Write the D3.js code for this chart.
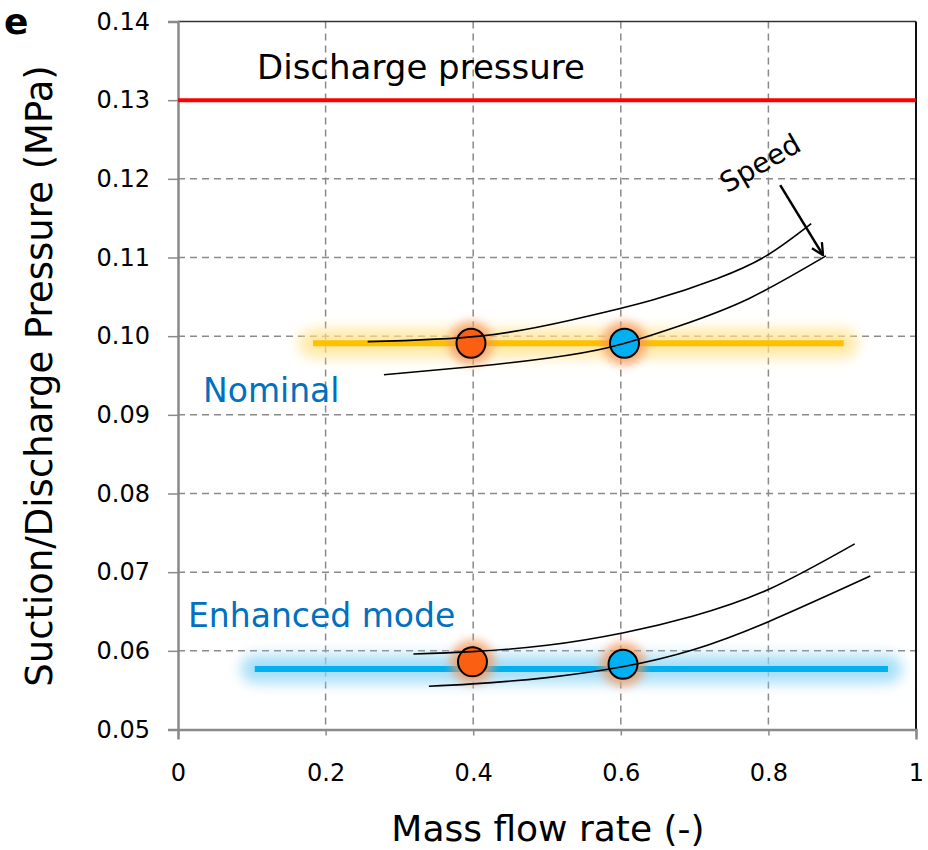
<!DOCTYPE html>
<html>
<head>
<meta charset="utf-8">
<script src="https://cdn.jsdelivr.net/npm/d3@7"></script>
<style>
  html, body { margin: 0; padding: 0; background: #fff; }
  svg text { font-family: "DejaVu Sans", sans-serif; }
</style>
</head>
<body>
<svg id="chart" width="928" height="850"></svg>
<script>
// Axis ticks
const xTicks = [0, 0.2, 0.4, 0.6, 0.8, 1];
const yTicks = [0.05, 0.06, 0.07, 0.08, 0.09, 0.10, 0.11, 0.12, 0.13, 0.14];

// Discharge pressure level (MPa)
const dischargePressure = 0.13;

// Operating bands: [x start, x end, suction pressure]
const nominalBand = [0.183, 0.902, 0.0991];
const enhancedBand = [0.104, 0.962, 0.0577];

// Operating points [mass flow, pressure, colour]
const nominalPoints = [[0.397, 0.0991, "orange"], [0.605, 0.0991, "blue"]];
const enhancedPoints = [[0.399, 0.0586, "orange"], [0.603, 0.0583, "blue"]];

// Compressor speed lines [mass flow, pressure]
const nominalUpper = [[0.257, 0.0993], [0.409, 0.1000], [0.530, 0.1020], [0.643, 0.1046], [0.730, 0.1073], [0.797, 0.1102], [0.858, 0.1143]];
const nominalLower = [[0.279, 0.0951], [0.409, 0.0962], [0.500, 0.0972], [0.585, 0.0986], [0.679, 0.1013], [0.774, 0.1048], [0.878, 0.1102]];
const enhancedUpper = [[0.319, 0.0596], [0.399, 0.0599], [0.500, 0.0607], [0.604, 0.0623], [0.697, 0.0644], [0.800, 0.0678], [0.917, 0.0736]];
const enhancedLower = [[0.340, 0.0555], [0.399, 0.0558], [0.500, 0.0566], [0.604, 0.0580], [0.697, 0.0601], [0.800, 0.0637], [0.938, 0.0695]];

// Speed arrow [from, to]
const speedArrow = [[0.816, 0.1192], [0.874, 0.1103]];

const svg = d3.select("#chart");
const L = 178, R = 916, T = 21.5, B = 729.5;

const x = d3.scaleLinear().domain([0, 1]).range([L, R]);
const y = d3.scaleLinear().domain([0.05, 0.14]).range([B, T]);

const defs = svg.append("defs");
function blurFilter(id, sd) {
  const f = defs.append("filter").attr("id", id)
    .attr("filterUnits", "userSpaceOnUse")
    .attr("x", 0).attr("y", 0).attr("width", 928).attr("height", 850);
  f.append("feGaussianBlur").attr("stdDeviation", sd);
}
blurFilter("glowBand", 7);
blurFilter("glowDot", 5);

defs.append("marker").attr("id", "arrowHead")
  .attr("viewBox", "0 0 12 12").attr("refX", 11).attr("refY", 6)
  .attr("markerWidth", 14).attr("markerHeight", 14).attr("markerUnits", "userSpaceOnUse")
  .attr("orient", "auto")
  .append("path").attr("d", "M1,1 L11,6 L1,11")
  .attr("fill", "none").attr("stroke", "#000").attr("stroke-width", 2);

// Gridlines
const grid = svg.append("g");
grid.selectAll("line.gx").data(xTicks.filter(d => d > 0 && d < 1)).join("line")
  .attr("x1", d => x(d)).attr("x2", d => x(d)).attr("y1", T).attr("y2", B)
  .attr("stroke", "#8a8a8a").attr("stroke-width", 1.5).attr("stroke-dasharray", "7,5");
grid.selectAll("line.gy").data(yTicks.filter(d => d > 0.05 && d < 0.14)).join("line")
  .attr("x1", L).attr("x2", R).attr("y1", d => y(d)).attr("y2", d => y(d))
  .attr("stroke", "#8a8a8a").attr("stroke-width", 1.5).attr("stroke-dasharray", "7,5");

// Frame: top and right
svg.append("line").attr("x1", L).attr("x2", R).attr("y1", T).attr("y2", T)
  .attr("stroke", "#333").attr("stroke-width", 1.5);
svg.append("line").attr("x1", R).attr("x2", R).attr("y1", T).attr("y2", B)
  .attr("stroke", "#111").attr("stroke-width", 2);

// Axes
const yAxis = svg.append("g").attr("transform", `translate(${L},0)`)
  .call(d3.axisLeft(y).tickValues(yTicks).tickFormat(d3.format(".2f")).tickSize(10).tickPadding(18));
const xAxis = svg.append("g").attr("transform", `translate(0,${B})`)
  .call(d3.axisBottom(x).tickValues(xTicks)
    .tickFormat(d => d === 0 || d === 1 ? d3.format("d")(d) : d3.format(".1f")(d))
    .tickSize(10).tickPadding(24));
[yAxis, xAxis].forEach(a => {
  a.attr("font-size", null).attr("font-family", null);
  a.select(".domain").attr("stroke", "#8a8a8a").attr("stroke-width", 2.5);
  a.selectAll(".tick line").attr("stroke", "#8a8a8a").attr("stroke-width", 1.5);
  a.selectAll(".tick text").style("font-size", "24px").attr("fill", "#000")
    .style("font-family", "DejaVu Sans, sans-serif");
});
xAxis.selectAll(".tick line").attr("stroke-dasharray", "6,5");

// Discharge pressure line
svg.append("line").attr("x1", x(0)).attr("x2", x(1))
  .attr("y1", y(dischargePressure)).attr("y2", y(dischargePressure))
  .attr("stroke", "#ff0000").attr("stroke-width", 4);

// Bands with soft glow
function band(b, glow, core) {
  svg.append("line").attr("x1", x(b[0])).attr("x2", x(b[1]))
    .attr("y1", y(b[2])).attr("y2", y(b[2]))
    .attr("stroke", glow).attr("stroke-width", 28).attr("stroke-linecap", "round")
    .attr("opacity", 0.8).attr("filter", "url(#glowBand)");
  svg.append("line").attr("x1", x(b[0])).attr("x2", x(b[1]))
    .attr("y1", y(b[2])).attr("y2", y(b[2]))
    .attr("stroke", core).attr("stroke-width", 6);
}
band(nominalBand, "#ffe28a", "#ffc000");
band(enhancedBand, "#8fd6f5", "#00b0f0");

// Operating points with glow
const fills = { orange: "#fb5f12", blue: "#00b0f0" };
const pts = nominalPoints.concat(enhancedPoints);
svg.append("g").selectAll("circle").data(pts).join("circle")
  .attr("cx", d => x(d[0])).attr("cy", d => y(d[1])).attr("r", 22)
  .attr("fill", "#f7955a").attr("opacity", 0.75).attr("filter", "url(#glowDot)");
svg.append("g").selectAll("circle").data(pts).join("circle")
  .attr("cx", d => x(d[0])).attr("cy", d => y(d[1])).attr("r", 14.5)
  .attr("fill", d => fills[d[2]]).attr("stroke", "#000").attr("stroke-width", 2);

// Speed lines
const line = d3.line().x(d => x(d[0])).y(d => y(d[1])).curve(d3.curveNatural);
[nominalUpper, nominalLower, enhancedUpper, enhancedLower].forEach(s => {
  svg.append("path").datum(s).attr("d", line)
    .attr("fill", "none").attr("stroke", "#000").attr("stroke-width", 1.6);
});

// Speed arrow
svg.append("line")
  .attr("x1", x(speedArrow[0][0])).attr("y1", y(speedArrow[0][1]))
  .attr("x2", x(speedArrow[1][0])).attr("y2", y(speedArrow[1][1]))
  .attr("stroke", "#000").attr("stroke-width", 2.5).attr("marker-end", "url(#arrowHead)");

// Annotations
svg.append("text").attr("x", 760).attr("y", 173).attr("font-size", 28)
  .attr("text-anchor", "middle").attr("transform", "rotate(-30,760,163)").text("Speed");
svg.append("text").attr("x", 421).attr("y", 79).attr("font-size", 34)
  .attr("text-anchor", "middle").text("Discharge pressure");
svg.append("text").attr("x", 203).attr("y", 402).attr("font-size", 33)
  .attr("fill", "#0070c0").text("Nominal");
svg.append("text").attr("x", 188).attr("y", 627).attr("font-size", 33)
  .attr("fill", "#0070c0").text("Enhanced mode");

// Axis titles
svg.append("text").attr("x", 548).attr("y", 841).attr("font-size", 36)
  .attr("text-anchor", "middle").text("Mass flow rate (-)");
svg.append("text").attr("transform", "translate(52,376) rotate(-90)").attr("font-size", 37)
  .attr("text-anchor", "middle").text("Suction/Discharge Pressure (MPa)");

// Panel letter
svg.append("text").attr("x", 4).attr("y", 34).attr("font-size", 36).attr("font-weight", "bold")
  .text("e");
</script>
</body>
</html>
